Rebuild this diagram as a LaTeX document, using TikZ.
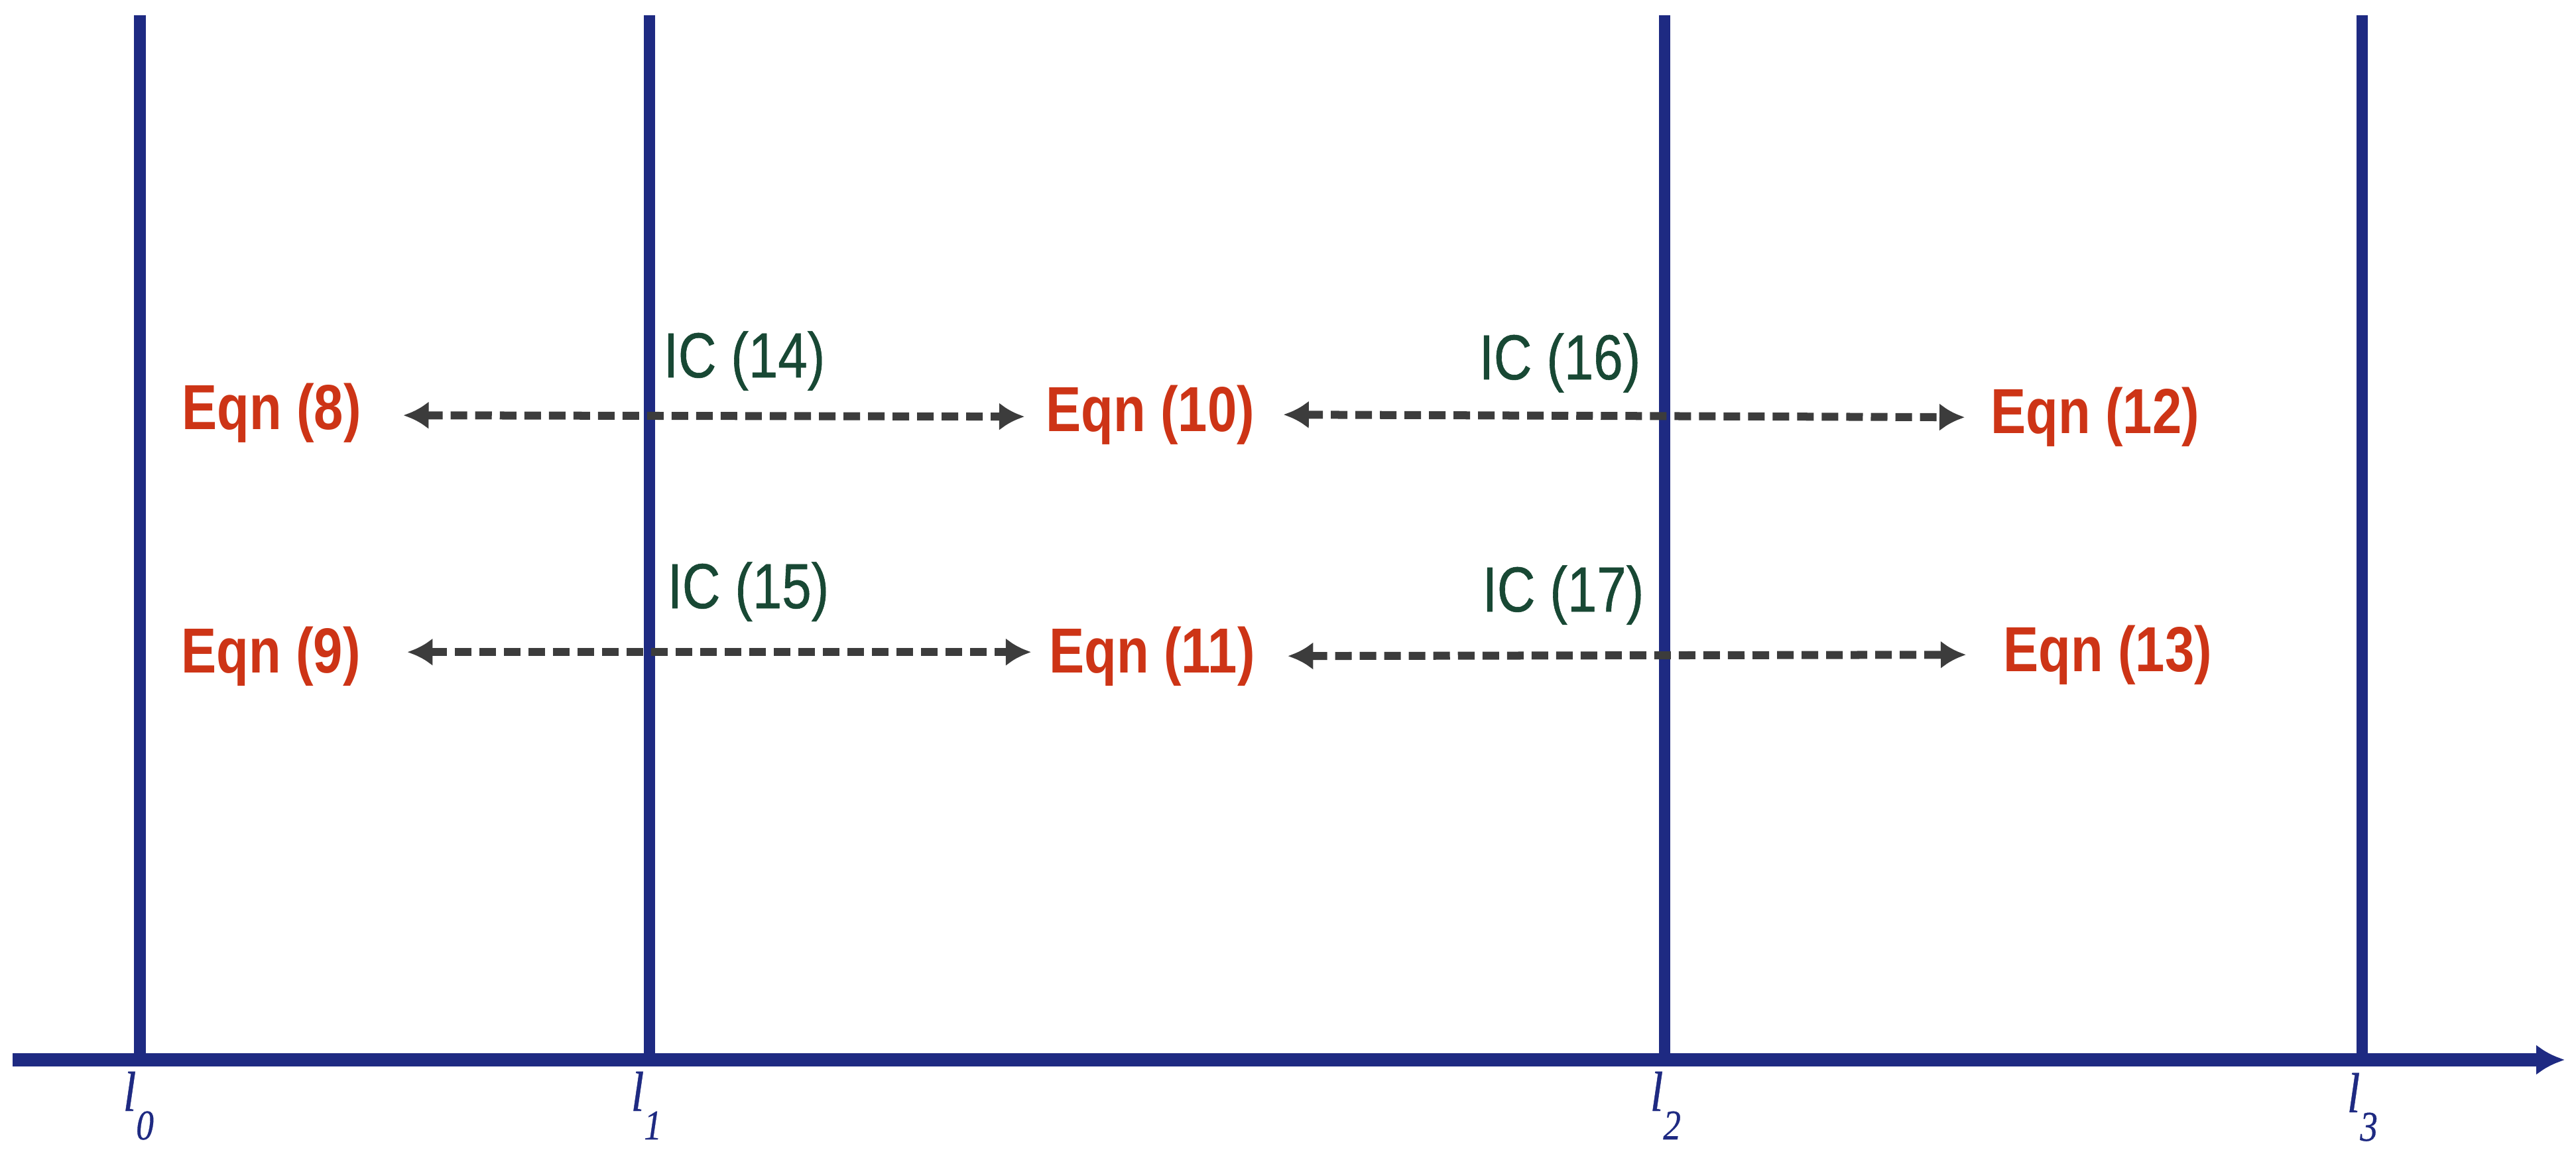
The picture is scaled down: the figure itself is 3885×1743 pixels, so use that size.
\documentclass[tikz,border=0pt]{standalone}
\usepackage{fontspec}
\usetikzlibrary{arrows.meta}
\newfontfamily\sansc{Liberation Sans}[FakeStretch=0.83]
\newfontfamily\sanscb{Liberation Sans}[FakeStretch=0.83,FakeBold=0.6]
\newfontfamily\serifc{Liberation Serif}[FakeStretch=0.83,FakeBold=0.5]
\definecolor{lineblue}{RGB}{30,42,130}
\definecolor{eqnred}{RGB}{205,52,22}
\definecolor{icgreen}{RGB}{24,72,52}
\definecolor{arrowgray}{RGB}{60,60,60}
\tikzset{
  eqnlabel/.style={anchor=base west, inner sep=0pt, text=eqnred,
    font=\sansc\bfseries\fontsize{27.3pt}{30pt}\selectfont},
  iclabel/.style={anchor=base west, inner sep=0pt, text=icgreen,
    font=\sanscb\fontsize{27.3pt}{30pt}\selectfont},
  poslabel/.style={anchor=base west, inner sep=0pt, text=lineblue,
    font=\serifc\itshape\fontsize{24.2pt}{26pt}\selectfont},
  divider/.style={draw=lineblue, line width=0.17cm},
  axisline/.style={draw=lineblue, line width=0.2cm,
    -{Latex[length=0.43cm,width=0.46cm]}},
  conn/.style={draw=arrowgray, line width=0.12cm,
    dash pattern=on 0.25cm off 0.12cm,
    {Latex[length=0.38cm,width=0.42cm]}-{Latex[length=0.38cm,width=0.42cm]}}
}
\newcommand{\subpos}[1]{\raisebox{-0.43cm}{\fontsize{18.2pt}{20pt}\selectfont #1}}
\begin{document}
\begin{tikzpicture}[x=0.01cm,y=-0.01cm]
\useasboundingbox[fill=white] (0,0) rectangle (3885,1743);

% axis and dividers
\coordinate (ax0) at (19,1598);
\coordinate (ax1) at (3868,1598);
\foreach \n/\xx in {0/211,1/979,2/2510,3/3562}{
  \coordinate (top\n) at (\xx,23);
  \coordinate (bot\n) at (\xx,1598);
  \draw[divider] (top\n) -- (bot\n);
}
\draw[axisline] (ax0) -- (ax1);

% position labels
\node[poslabel] (l0) at (185,1675) {l\subpos{0}};
\node[poslabel] (l1) at (951,1675) {l\subpos{1}};
\node[poslabel] (l2) at (2488,1675) {l\subpos{2}};
\node[poslabel] (l3) at (3539,1677) {l\subpos{3}};

% equations
\node[eqnlabel] (e8)  at (274,648)  {Eqn (8)};
\node[eqnlabel] (e9)  at (273,1014) {Eqn (9)};
\node[eqnlabel] (e10) at (1577,650) {Eqn (10)};
\node[eqnlabel] (e11) at (1582,1014) {Eqn (11)};
\node[eqnlabel] (e12) at (3002,654) {Eqn (12)};
\node[eqnlabel] (e13) at (3021,1012) {Eqn (13)};

% interface conditions
\node[iclabel] (ic14) at (1000,569) {IC (14)};
\node[iclabel] (ic15) at (1006,917) {IC (15)};
\node[iclabel] (ic16) at (2230,572) {IC (16)};
\node[iclabel] (ic17) at (2235,922) {IC (17)};

% connectors
\draw[conn] ([xshift=0.63cm,yshift=-0.03cm]e8.east) -- ([xshift=-0.32cm,yshift=-0.03cm]e10.west);
\draw[conn] ([xshift=0.43cm]e10.east) -- ([xshift=-0.39cm]e12.west);
\draw[conn] ([xshift=0.70cm,yshift=0.06cm]e9.east) -- ([xshift=-0.27cm,yshift=0.06cm]e11.west);
\draw[conn] ([xshift=0.49cm]e11.east) -- ([xshift=-0.56cm]e13.west);
\end{tikzpicture}
\end{document}
